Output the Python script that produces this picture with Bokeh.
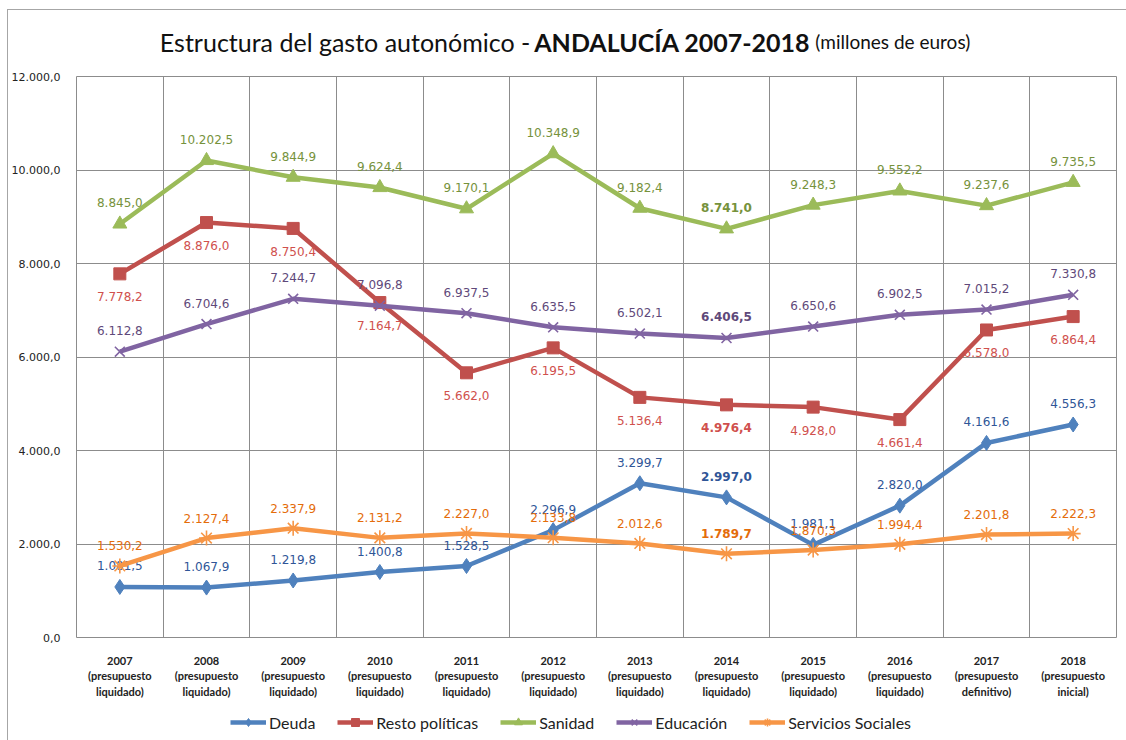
from bokeh.plotting import figure
from bokeh.layouts import column
from bokeh.models import (ColumnDataSource, Range1d, FixedTicker, Legend, LegendItem)
from bokeh.core.properties import value
from bokeh.embed import file_html
from bokeh.resources import INLINE

years = ["2007", "2008", "2009", "2010", "2011", "2012", "2013", "2014", "2015", "2016", "2017", "2018"]
budget_types = ["liquidado"] * 10 + ["definitivo", "inicial"]

deuda = [1081.5, 1067.9, 1219.8, 1400.8, 1528.5, 2296.9, 3299.7, 2997.0, 1981.1, 2820.0, 4161.6, 4556.3]
resto = [7778.2, 8876.0, 8750.4, 7164.7, 5662.0, 6195.5, 5136.4, 4976.4, 4928.0, 4661.4, 6578.0, 6864.4]
sanidad = [8845.0, 10202.5, 9844.9, 9624.4, 9170.1, 10348.9, 9182.4, 8741.0, 9248.3, 9552.2, 9237.6, 9735.5]
educacion = [6112.8, 6704.6, 7244.7, 7096.8, 6937.5, 6635.5, 6502.1, 6406.5, 6650.6, 6902.5, 7015.2, 7330.8]
servicios = [1530.2, 2127.4, 2337.9, 2131.2, 2227.0, 2133.8, 2012.6, 1789.7, 1870.3, 1994.4, 2201.8, 2222.3]

y_ticks = [0, 2000, 4000, 6000, 8000, 10000, 12000]
y_tick_labels = ["0,0", "2.000,0", "4.000,0", "6.000,0", "8.000,0", "10.000,0", "12.000,0"]
bold_year = "2014"

title_parts = ["Estructura del gasto autonómico - ", "ANDALUCÍA 2007-2018", "(millones de euros)"]


def fmt(v):
    s = f"{v:,.1f}"
    return s.replace(",", "X").replace(".", ",").replace("X", ".")


W = 1118
xs = [i + 0.5 for i in range(len(years))]

# ---------------- title strip (x in page pixels over the aligned frame) ----------------
tf = figure(width=W, height=56, output_backend="svg", toolbar_location=None,
            x_range=Range1d(80, 1116), y_range=Range1d(56, 0),
            x_axis_type=None, y_axis_type=None,
            min_border_left=0, min_border_right=0, min_border_top=0, min_border_bottom=0)
tf.outline_line_color = None
tf.grid.visible = False
tf.text(x=[163], y=[31], text=[title_parts[0]], text_font=value("Lato"), text_font_size="25px",
        text_color="#111111", text_align="left", text_baseline="alphabetic")
tf.text(x=[536], y=[31], text=[title_parts[1]], text_font=value("Lato"), text_font_style="bold",
        text_font_size="25px", text_color="#111111", text_align="left", text_baseline="alphabetic")
tf.text(x=[816], y=[31], text=[title_parts[2]], text_font=value("Lato"), text_font_size="19px",
        text_color="#111111", text_align="left", text_baseline="alphabetic")

# ---------------- main chart ----------------
p = figure(width=W, height=634, output_backend="svg", toolbar_location=None,
           x_range=Range1d(0, 12), y_range=Range1d(0, 12000),
           min_border_left=68, min_border_right=10, min_border_top=10, min_border_bottom=59)
p.background_fill_color = "white"
p.border_fill_color = "white"
p.outline_line_color = "#8c8c8c"
p.outline_line_width = 1

p.yaxis.ticker = FixedTicker(ticks=y_ticks)
p.yaxis.major_label_overrides = {t: l for t, l in zip(y_ticks, y_tick_labels)}
p.yaxis.major_label_text_font = "DejaVu Sans"
p.yaxis.major_label_text_font_size = "11px"
p.yaxis.major_label_text_color = "#222222"
p.yaxis.axis_line_color = None
p.yaxis.major_tick_line_color = None
p.yaxis.minor_tick_line_color = None
p.yaxis.major_label_standoff = 10

p.xaxis.ticker = FixedTicker(ticks=xs)
p.xaxis.major_label_overrides = {x: f"{y}\n(presupuesto\n{b})" for x, y, b in zip(xs, years, budget_types)}
p.xaxis.major_label_text_font = "Lato"
p.xaxis.major_label_text_font_style = "bold"
p.xaxis.major_label_text_font_size = "11px"
p.xaxis.major_label_text_color = "#222222"
p.xaxis.axis_line_color = None
p.xaxis.major_tick_line_color = None
p.xaxis.minor_tick_line_color = None
p.xaxis.major_label_standoff = 10

p.xgrid.ticker = FixedTicker(ticks=list(range(13)))
p.xgrid.grid_line_color = "#8c8c8c"
p.ygrid.grid_line_color = "#8c8c8c"

series = [
    ("Deuda", deuda, "#4F81BD", "#2F5597", "diamond", 15, -21),
    ("Resto políticas", resto, "#C0504D", "#D0504D", "square", 12, 23),
    ("Sanidad", sanidad, "#9BBB59", "#76923C", "triangle", 14, -21),
    ("Educación", educacion, "#8064A2", "#5F497A", "x", 14, -21),
    ("Servicios Sociales", servicios, "#F79646", "#E46C0A", "asterisk", 15, -20),
]

# ---------------- legend strip ----------------
lf = figure(width=W, height=40, output_backend="svg", toolbar_location=None,
            x_range=Range1d(0, 1), y_range=Range1d(0, 1),
            x_axis_type=None, y_axis_type=None,
            min_border_left=0, min_border_right=0, min_border_top=0, min_border_bottom=0)
lf.outline_line_color = None
lf.grid.visible = False

items = []
for name, vals, col, lcol, marker, size, yoff in series:
    src = ColumnDataSource(dict(
        x=xs, y=vals, label=[fmt(v) for v in vals],
        style=["bold" if y == bold_year else "normal" for y in years]))
    p.line("x", "y", source=src, line_color=col, line_width=4.5)
    mk = dict(marker=marker, size=size, line_color=col, fill_color=col)
    if marker in ("x", "asterisk"):
        mk["line_width"] = 1.6
    p.scatter("x", "y", source=src, **mk)
    p.text("x", "y", text="label", source=src, text_color=lcol,
           text_font=value("DejaVu Sans"), text_font_size="12px",
           text_font_style="style",
           text_align="center", text_baseline="middle", y_offset=yoff)
    # legend proxies: the same series drawn in the legend strip, where they fall outside its range
    l1 = lf.line("x", "y", source=src, line_color=col, line_width=4.5)
    l2 = lf.scatter("x", "y", source=src, **mk)
    items.append(LegendItem(label=name, renderers=[l1, l2]))

legend = Legend(items=items, orientation="horizontal", location=(154, 8),
                label_text_font="Lato", label_text_font_size="16px",
                label_text_color="#222222", glyph_width=36, spacing=22,
                border_line_color=None, background_fill_alpha=0,
                margin=0, padding=4, label_standoff=3)
lf.add_layout(legend, "center")

layout = column(tf, p, lf, spacing=0, margin=(10, 0, 0, 8),
                styles={"outline": "1px solid #a6a6a6"})

open("out.html", "w").write(file_html(layout, INLINE))
